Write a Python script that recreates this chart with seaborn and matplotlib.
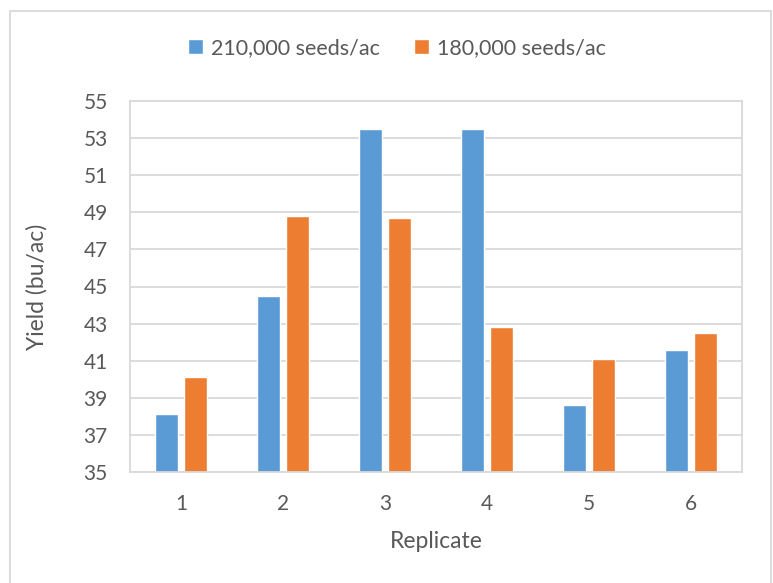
import matplotlib
matplotlib.use("Agg")
import matplotlib.pyplot as plt
import matplotlib.patches as mpatches
import seaborn as sns
import pandas as pd

replicates = ["1", "2", "3", "4", "5", "6"]
seeds_210k = [38.1, 44.5, 53.5, 53.5, 38.6, 41.6]
seeds_180k = [40.1, 48.8, 48.7, 42.8, 41.1, 42.5]
series_names = ["210,000 seeds/ac", "180,000 seeds/ac"]
colors = ["#5B9BD5", "#ED7D31"]
y_ticks = [35, 37, 39, 41, 43, 45, 47, 49, 51, 53, 55]

df = pd.DataFrame({
    "Replicate": replicates * 2,
    "Yield": seeds_210k + seeds_180k,
    "Series": [series_names[0]] * 6 + [series_names[1]] * 6,
})

sns.set_style("white")
plt.rcParams["font.family"] = ["Lato", "DejaVu Sans"]
text_color = "#595959"
grid_color = "#D9D9D9"

fig = plt.figure(figsize=(7.73, 5.83), dpi=100)
ax = fig.add_axes([130 / 773, 1 - 472 / 583, (742 - 130) / 773, (472 - 101) / 583])

sns.barplot(data=df, x="Replicate", y="Yield", hue="Series",
            palette=colors, width=0.568, gap=0.208, ax=ax,
            saturation=1, legend=True)

ax.set_ylim(35, 55)
ax.set_yticks(y_ticks)
ax.set_axisbelow(True)
ax.yaxis.grid(True, color=grid_color, linewidth=1.3)
for s in ax.spines.values():
    s.set_visible(True)
    s.set_color(grid_color)
    s.set_linewidth(1.3)
ax.tick_params(axis="both", length=0, labelsize=15, colors=text_color)
ax.tick_params(axis="y", pad=16)
ax.tick_params(axis="x", pad=16)
ax.set_xlabel("Replicate", fontsize=16.5, color=text_color, labelpad=12)
ax.set_ylabel("Yield (bu/ac)", fontsize=16.5, color=text_color, labelpad=26)

handles, labels = ax.get_legend_handles_labels()
ax.get_legend().remove()
fig.legend(handles, labels, loc="center", bbox_to_anchor=(397 / 773, 1 - 48 / 583),
           ncol=2, frameon=False, fontsize=15.5, labelcolor=text_color,
           handlelength=0.7, handleheight=0.7, handletextpad=0.35, columnspacing=1.6)

border = mpatches.Rectangle((10 / 773, -0.05), (771 - 10) / 773, 1 - 11 / 583 + 0.05,
                            transform=fig.transFigure, fill=False,
                            edgecolor=grid_color, linewidth=1.3, clip_on=False)
fig.patches.append(border)

fig.savefig("out.png", dpi=100)
